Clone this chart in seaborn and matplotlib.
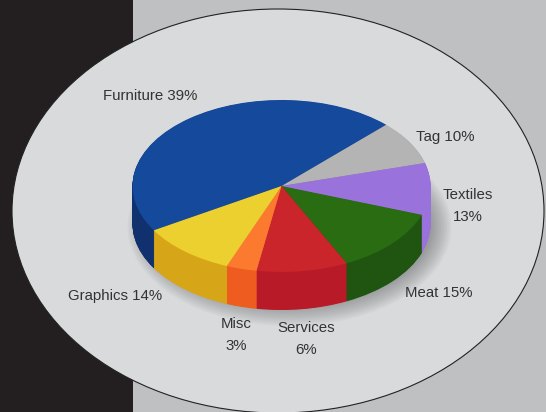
import matplotlib
matplotlib.use('Agg')
import matplotlib.pyplot as plt
from matplotlib.patches import Ellipse, Rectangle
import seaborn as sns

# %%
# Data. The printed percentages don't match how big the slices are drawn,
# so slice sizes are read off the picture and the labels kept as printed
labels = ['Furniture 39%', 'Tag 10%', 'Textiles\n13%', 'Meat 15%', 'Services\n6%', 'Misc\n3%', 'Graphics 14%']
drawn_share = [46.0, 8.3, 9.75, 12.35, 9.9, 3.3, 10.4]
top_colors = ['#14499b', '#b4b4b4', '#9a72dc', '#2a6c12', '#c9252b', '#fb7a30', '#ecd030']
wall_colors = ['#10306e', '#8c8c8c', '#9a72dc', '#1f5510', '#b91a28', '#ee5c20', '#d6a618']

W, H = 546, 412
CX, CY = 281.5, 186   # pie centre in pixels
RX, RY = 149, 86      # pie radii in pixels
DEPTH = 38            # pie thickness in pixels

sns.set_theme(style='white')
plt.rcParams['font.family'] = ['Liberation Sans', 'DejaVu Sans']

fig = plt.figure(figsize=(W / 100, H / 100), dpi=100)

# %%
# Backdrop, in pixel coordinates
bg = fig.add_axes([0, 0, 1, 1])
bg.set_xlim(0, W)
bg.set_ylim(H, 0)
bg.axis('off')
bg.add_patch(Rectangle((0, 0), W, H, color='#bfc0c2', lw=0))
bg.add_patch(Rectangle((0, 0), 133, H, color='#231f20', lw=0))
bg.add_patch(Ellipse((278, 211), 532, 404, fc='#d9dadb', ec='#222222', lw=0.8))

# soft shadow under the pie, pushed down and to the right
for i in range(16):
    bg.add_patch(Ellipse((CX + 8, CY + DEPTH + 3), 2 * RX + 26 - 3 * i, 2 * RY + 26 - 3 * i,
                         color='#55565a', alpha=0.04, lw=0))

# %%
# Pie axes: one data unit is RX pixels across and RY pixels down,
# which squashes the circle to the tilted ellipse
ax = fig.add_axes([0, 0, 1, 1])
ax.patch.set_visible(False)

steps = 2 * DEPTH
for i in range(steps, 0, -1):
    ax.pie(drawn_share, colors=wall_colors, startangle=211, counterclock=False,
           center=(0, -DEPTH / RY * i / steps), radius=1, frame=False,
           wedgeprops={'lw': 0})
ax.pie(drawn_share, colors=top_colors, startangle=211, counterclock=False,
       center=(0, 0), radius=1, frame=False, wedgeprops={'lw': 0})
ax.set_aspect('auto')
ax.set_xlim(-CX / RX, (W - CX) / RX)
ax.set_ylim((CY - H) / RY, CY / RY)
ax.axis('off')

# %%
# Slice labels
label_xy = [(150, 96), (445, 137), (468, 206), (439, 293), (306, 339), (236, 335), (115, 296)]
for text, (x, y) in zip(labels, label_xy):
    fig.text(x / W, 1 - y / H, text, ha='center', va='center', fontsize=10.8,
             color='#333333', linespacing=1.75, zorder=20)

fig.savefig('out.png', dpi=100)
